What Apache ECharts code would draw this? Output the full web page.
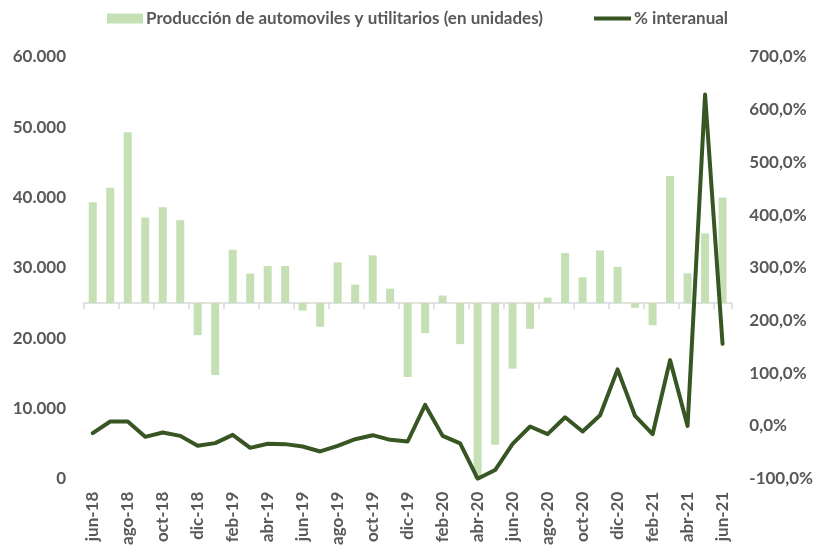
<!DOCTYPE html>
<html>
<head>
<meta charset="utf-8">
<script src="https://cdn.jsdelivr.net/npm/echarts@6/dist/echarts.min.js"></script>
<style>
html,body{margin:0;padding:0;background:#fff;}
#chart{width:816px;height:548px;}
</style>
</head>
<body>
<div id="chart"></div>
<script>
const months = ['jun-18','jul-18','ago-18','sep-18','oct-18','nov-18','dic-18','ene-19','feb-19','mar-19','abr-19','may-19','jun-19','jul-19','ago-19','sep-19','oct-19','nov-19','dic-19','ene-20','feb-20','mar-20','abr-20','may-20','jun-20','jul-20','ago-20','sep-20','oct-20','nov-20','dic-20','ene-21','feb-21','mar-21','abr-21','may-21','jun-21'];
const produccion = [39350,41380,49280,37160,38640,36790,20430,14750,32580,29180,30270,30270,23930,21620,30780,27620,31780,27050,14470,20710,26060,19150,0,4820,15660,21330,25770,32110,28650,32480,30130,24310,21840,43080,29220,34900,40000];
const interanual = [-13.6,8.5,8.5,-20.6,-12.3,-18.7,-37.6,-32.5,-16.8,-41.4,-33.8,-34.4,-38.8,-48.3,-37.6,-25.0,-17.4,-26.2,-29.4,40.0,-18.7,-33.0,-100.0,-83.6,-33.8,-1.0,-15.5,16.6,-10.5,20.4,107.4,19.1,-15.5,125.0,0.2,628.8,156.0];
const axisCross = 25000; // horizontal axis crosses the left axis here
const leftTicks = {min:0, max:60000, interval:10000};
const rightTicks = {min:-100, max:700, interval:100};

const serieBar = 'Producción de automoviles y utilitarios (en unidades)';
const serieLine = '% interanual';
const FONT = 'Lato';
const GREY = '#595959';
const legendText = {fontFamily:FONT, fontWeight:'bold', fontSize:17, color:GREY, padding:[0,0,0,-2]};

const chart = echarts.init(document.getElementById('chart'));
chart.setOption({
  animation:false,
  textStyle:{fontFamily:FONT},
  legend:[{
    left:107, top:10, padding:0,
    itemWidth:36, itemHeight:10,
    textStyle:legendText,
    data:[{name:serieBar, icon:'rect'}]
  },{
    left:594, top:10, padding:0,
    itemWidth:37, itemHeight:4,
    textStyle:legendText,
    data:[{name:serieLine, icon:'rect'}]
  }],
  grid:{left:84, right:81, top:57, bottom:68, containLabel:false},
  xAxis:[{
    type:'category', data:months, position:'bottom',
    axisLine:{show:false, onZero:false},
    axisTick:{show:false},
    axisLabel:{interval:1, rotate:90, margin:13, fontFamily:FONT, fontWeight:'bold', fontSize:17, color:GREY}
  },{
    type:'category', data:months, position:'bottom',
    axisLine:{show:true, onZero:true, onZeroAxisIndex:2, lineStyle:{color:'#D9D9D9', width:1.5}},
    axisTick:{show:true, interval:1, length:6, lineStyle:{color:'#D9D9D9', width:1.5}},
    axisLabel:{show:false}
  }],
  yAxis:[{
    type:'value', min:leftTicks.min, max:leftTicks.max, interval:leftTicks.interval, position:'left',
    splitLine:{show:false}, axisLine:{show:false}, axisTick:{show:false},
    axisLabel:{margin:18, fontFamily:FONT, fontWeight:'bold', fontSize:17, color:GREY,
      formatter:v=>v.toLocaleString('de-DE')}
  },{
    type:'value', min:rightTicks.min, max:rightTicks.max, interval:rightTicks.interval, position:'right',
    splitLine:{show:false}, axisLine:{show:false}, axisTick:{show:false},
    axisLabel:{margin:18, fontFamily:FONT, fontWeight:'bold', fontSize:17, color:GREY,
      formatter:v=>v.toFixed(1).replace('.',',')+'%'}
  },{
    type:'value', show:false, min:leftTicks.min-axisCross, max:leftTicks.max-axisCross,
    splitLine:{show:false}
  }],
  series:[{
    name:serieBar, type:'bar', xAxisIndex:0, yAxisIndex:2,
    barWidth:8,
    itemStyle:{color:'#C5E0B4'},
    data:produccion.map(v=>v-axisCross),
    z:2
  },{
    name:serieLine, type:'line', xAxisIndex:0, yAxisIndex:1,
    symbol:'none', showSymbol:false,
    lineStyle:{color:'#375623', width:4, join:'round', cap:'round'},
    itemStyle:{color:'#375623'},
    data:interanual,
    z:3
  }]
});
</script>
</body>
</html>
